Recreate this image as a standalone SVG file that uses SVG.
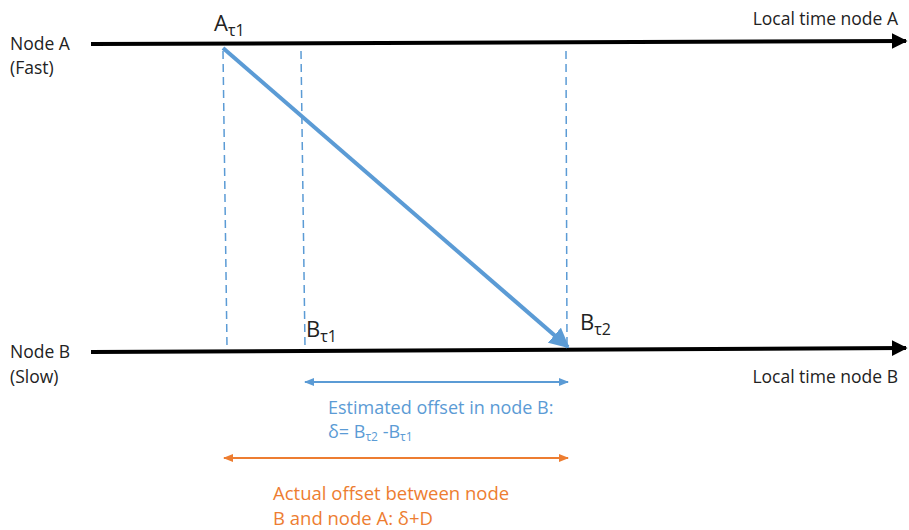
<svg xmlns="http://www.w3.org/2000/svg" width="909" height="530" viewBox="0 0 909 530">
<defs>
<marker id="blk" viewBox="0 0 10 10" refX="9" refY="5" markerWidth="4" markerHeight="4" orient="auto"><path d="M0,0 L10,5 L0,10 Z" fill="#000"/></marker>
<marker id="bluehead" viewBox="0 0 10 10" refX="9" refY="5" markerWidth="5" markerHeight="5" orient="auto"><path d="M0,0 L10,5 L0,10 Z" fill="#5B9BD5"/></marker>
<marker id="bsm" viewBox="0 0 10 10" refX="9" refY="5" markerWidth="5" markerHeight="5" orient="auto-start-reverse"><path d="M0,1 L10,5 L0,9 Z" fill="#5B9BD5"/></marker>
<marker id="osm" viewBox="0 0 10 10" refX="9" refY="5" markerWidth="5" markerHeight="5" orient="auto-start-reverse"><path d="M0,1 L10,5 L0,9 Z" fill="#ED7D31"/></marker>
</defs>
<style>
text{font-family:"Open Sans","Liberation Sans",sans-serif;font-size:17.5px;fill:#222}
.big{font-size:22px}
.sub{font-size:16px}
.blue{fill:#5B9BD5;font-size:18px}
.orange{fill:#ED7D31;font-size:18.5px}
.axis{stroke:#000;stroke-width:4;fill:none}
.dash{stroke:#5B9BD5;stroke-width:1.5;stroke-dasharray:8,5;fill:none}
</style>
<rect width="909" height="530" fill="#fff"/>
<g id="nodeA">
<text x="10" y="50">Node A</text>
<text x="10" y="74">(Fast)</text>
<text x="898" y="25" text-anchor="end">Local time node A</text>
</g>
<g id="nodeB">
<text x="10" y="358">Node B</text>
<text x="10" y="383">(Slow)</text>
<text x="898" y="383" text-anchor="end">Local time node B</text>
</g>
<g id="labels">
<text x="214" y="31" class="big">A<tspan class="sub" dy="5">τ1</tspan></text>
<text x="306" y="337" class="big">B<tspan class="sub" dy="5">τ1</tspan></text>
<text x="580" y="330" class="big">B<tspan class="sub" dy="5">τ2</tspan></text>
</g>
<g id="estimated">
<text x="328" y="414" class="blue">Estimated offset in node B:</text>
<text x="328" y="438" class="blue">δ= B<tspan font-size="12" dy="3">τ2</tspan><tspan dy="-3"> -B</tspan><tspan font-size="12" dy="3">τ1</tspan></text>
</g>
<g id="actual">
<text x="273" y="500" class="orange">Actual offset between node</text>
<text x="273" y="525" class="orange">B and node A: δ+D</text>
</g>
<g id="connectors">
<line x1="91" y1="44" x2="906" y2="41" class="axis" marker-end="url(#blk)"/>
<line x1="91" y1="352" x2="906" y2="348" class="axis" marker-end="url(#blk)"/>
<line x1="223" y1="51" x2="227" y2="347" class="dash"/>
<line x1="301" y1="51" x2="305" y2="347" class="dash"/>
<line x1="566" y1="51" x2="567" y2="345" class="dash"/>
<line x1="223" y1="48" x2="568" y2="347" stroke="#5B9BD5" stroke-width="4" marker-end="url(#bluehead)"/>
<line x1="305" y1="382" x2="568" y2="382" stroke="#5B9BD5" stroke-width="2" marker-start="url(#bsm)" marker-end="url(#bsm)"/>
<line x1="224" y1="458" x2="568" y2="458" stroke="#ED7D31" stroke-width="2" marker-start="url(#osm)" marker-end="url(#osm)"/>
</g>
</svg>
